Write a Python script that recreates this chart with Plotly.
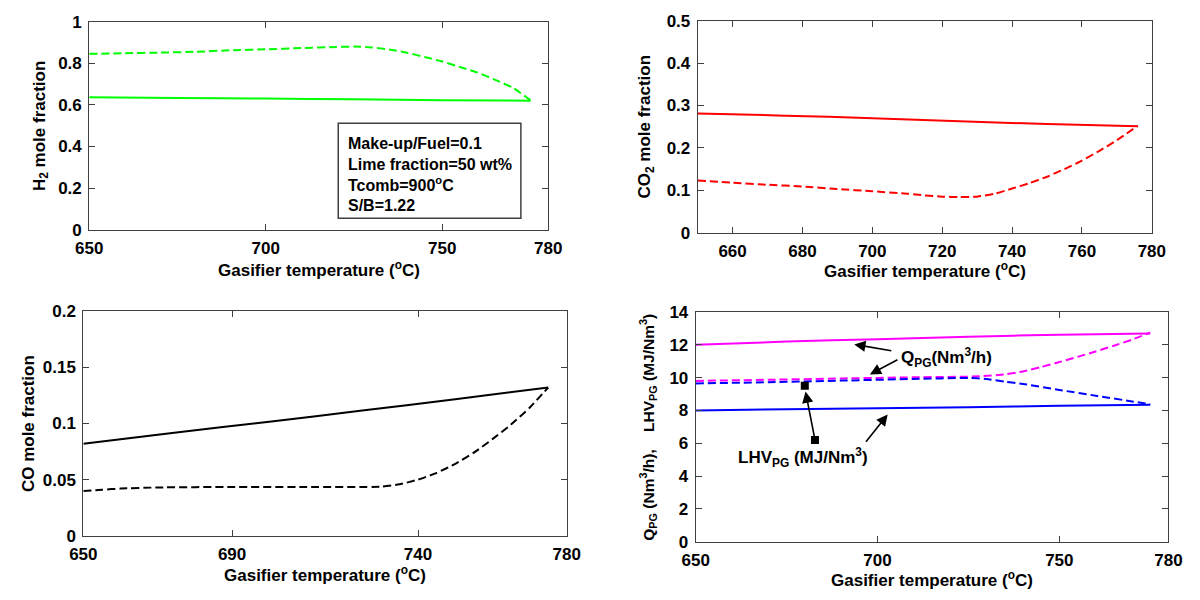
import plotly.graph_objects as go

# ---------------- data (gasifier temperature in °C) ----------------
# H2 mole fraction
h2_a_t = [650, 675, 700, 725, 750, 775]
h2_a = [0.637, 0.633, 0.630, 0.627, 0.622, 0.620]
h2_b_t = [650, 660, 670, 680, 690, 700, 710, 720, 725, 730, 735, 740, 745, 750, 755, 760, 765, 770, 775]
h2_b = [0.845, 0.848, 0.851, 0.855, 0.862, 0.867, 0.873, 0.878, 0.880, 0.876, 0.866, 0.850, 0.830,
        0.808, 0.782, 0.755, 0.720, 0.682, 0.622]

# CO2 mole fraction
co2_a_t = [650, 675, 700, 725, 750, 776]
co2_a = [0.281, 0.276, 0.270, 0.263, 0.256, 0.251]
co2_b_t = [650, 660, 670, 680, 690, 700, 710, 715, 720, 725, 730, 735, 740, 745, 750, 755, 760, 765, 770, 776]
co2_b = [0.123, 0.118, 0.113, 0.109, 0.103, 0.0976, 0.092, 0.088, 0.085, 0.084, 0.085, 0.092, 0.104,
         0.117, 0.132, 0.150, 0.170, 0.193, 0.218, 0.252]

# CO mole fraction
co_a_t = [650, 675, 700, 725, 750, 775]
co_a = [0.082, 0.092, 0.1015, 0.1115, 0.1215, 0.132]
co_b_t = [650, 655, 660, 670, 690, 710, 730, 735, 740, 745, 750, 755, 760, 765, 770, 775]
co_b = [0.0398, 0.041, 0.042, 0.043, 0.0435, 0.0435, 0.0437, 0.0458, 0.0500, 0.0560, 0.0640, 0.0740,
        0.0860, 0.0990, 0.1140, 0.132]

# Product gas flow Q_PG (Nm3/h)
q_a_t = [650, 675, 700, 725, 750, 775]
q_a = [12.0, 12.2, 12.35, 12.5, 12.62, 12.7]
q_b_t = [650, 670, 690, 710, 728, 735, 740, 745, 750, 755, 760, 765, 770, 775]
q_b = [9.8, 9.87, 9.95, 10.02, 10.08, 10.2, 10.38, 10.65, 10.95, 11.27, 11.6, 11.95, 12.32, 12.75]

# Product gas heating value LHV_PG (MJ/Nm3)
lhv_a_t = [650, 675, 700, 725, 750, 775]
lhv_a = [8.0, 8.07, 8.13, 8.2, 8.28, 8.35]
lhv_b_t = [650, 670, 690, 710, 725, 730, 735, 740, 750, 760, 770, 775]
lhv_b = [9.65, 9.72, 9.82, 9.92, 9.98, 9.92, 9.75, 9.62, 9.25, 8.9, 8.55, 8.38]

# axis ticks
x_ticks_1 = [650, 700, 750, 780]
x_ticks_2 = [660, 680, 700, 720, 740, 760, 780]
x_ticks_3 = [650, 690, 740, 780]
x_ticks_4 = [650, 700, 750, 780]
y_ticks_1 = [0, 0.2, 0.4, 0.6, 0.8, 1]
y_text_1 = ["0", "0.2", "0.4", "0.6", "0.8", "1"]
y_ticks_2 = [0, 0.1, 0.2, 0.3, 0.4, 0.5]
y_text_2 = ["0", "0.1", "0.2", "0.3", "0.4", "0.5"]
y_ticks_3 = [0, 0.05, 0.1, 0.15, 0.2]
y_text_3 = ["0", "0.05", "0.1", "0.15", "0.2"]
y_ticks_4 = [0, 2, 4, 6, 8, 10, 12, 14]

W, H = 1200, 600
FONT = "Liberation Sans, Arial, Helvetica, sans-serif"
AX = "#404040"
DASH = "8px,4px"
TICK_SIZE = 17
TITLE_SIZE = 17


def px(x):
    return x / W


def py(y):
    return 1 - y / H


fig = go.Figure()


def line(x, y, color, dashed, ax):
    fig.add_trace(go.Scatter(
        x=x, y=y, mode="lines", xaxis="x" + ax, yaxis="y" + ax,
        line=dict(color=color, width=2, dash=DASH if dashed else "solid",
                  shape="spline", smoothing=0.5),
        showlegend=False, hoverinfo="skip"))


line(h2_a_t, h2_a, "#00ff00", False, "")
line(h2_b_t, h2_b, "#00ff00", True, "")
line(co2_a_t, co2_a, "#ff0000", False, "2")
line(co2_b_t, co2_b, "#ff0000", True, "2")
line(co_a_t, co_a, "#000000", False, "3")
line(co_b_t, co_b, "#000000", True, "3")
line(q_a_t, q_a, "#ff00ff", False, "4")
line(q_b_t, q_b, "#ff00ff", True, "4")
line(lhv_a_t, lhv_a, "#0000ff", False, "4")
line(lhv_b_t, lhv_b, "#0000ff", True, "4")


def xax(domain, ticks, anchor):
    return dict(domain=domain, range=[650, 780], tickvals=ticks, anchor=anchor,
                showline=True, linecolor=AX, linewidth=1, mirror="ticks",
                ticks="inside", ticklen=6, tickcolor=AX, showgrid=False, zeroline=False,
                ticklabelstandoff=3,
                tickfont=dict(size=TICK_SIZE, color="black"))


def yax(domain, rng, ticks, text, anchor):
    d = dict(domain=domain, range=rng, tickvals=ticks, anchor=anchor,
             showline=True, linecolor=AX, linewidth=1, mirror="ticks",
             ticks="inside", ticklen=6, tickcolor=AX, showgrid=False, zeroline=False,
             ticklabelstandoff=3,
             tickfont=dict(size=TICK_SIZE, color="black"))
    if text is not None:
        d["ticktext"] = text
    return d


# panel frames in pixels: (left, right, top, bottom)
P1 = (77, 547, 13, 228)
P2 = (700, 1165, 12, 231)
P3 = (71, 566, 312, 544)
P4 = (698, 1182, 313, 550)


def dom(p):
    return [px(p[0]), px(p[1])], [py(p[3]), py(p[2])]


d1x, d1y = dom(P1)
d2x, d2y = dom(P2)
d3x, d3y = dom(P3)
d4x, d4y = dom(P4)

fig.update_layout(
    width=W, height=H, margin=dict(l=0, r=0, t=0, b=0),
    paper_bgcolor="white", plot_bgcolor="white",
    font=dict(family=FONT, size=16, color="black", weight="bold"),
    xaxis=xax(d1x, x_ticks_1, "y"),
    yaxis=yax(d1y, [0, 1], y_ticks_1, y_text_1, "x"),
    xaxis2=xax(d2x, x_ticks_2, "y2"),
    yaxis2=yax(d2y, [0, 0.5], y_ticks_2, y_text_2, "x2"),
    xaxis3=xax(d3x, x_ticks_3, "y3"),
    yaxis3=yax(d3y, [0, 0.2], y_ticks_3, y_text_3, "x3"),
    xaxis4=xax(d4x, x_ticks_4, "y4"),
    yaxis4=yax(d4y, [0, 14], y_ticks_4, None, "x4"),
)

XT = "Gasifier temperature (<sup>o</sup>C)"
ann = []


def label(text, x, y, angle=0, size=TITLE_SIZE):
    ann.append(dict(text=text, x=px(x), y=py(y), xref="paper", yref="paper",
                    showarrow=False, textangle=angle, xanchor="center", yanchor="middle",
                    font=dict(size=size, color="black")))


label(XT, (P1[0] + P1[1]) / 2, 268)
label(XT, (P2[0] + P2[1]) / 2, 270)
label(XT, (P3[0] + P3[1]) / 2, 583)
label(XT, (P4[0] + P4[1]) / 2, 589)
label("H<sub>2</sub> mole fraction", 27, (P1[2] + P1[3]) / 2, -90)
label("CO<sub>2</sub> mole fraction", 647, (P2[2] + P2[3]) / 2, -90)
label("CO mole fraction", 15, (P3[2] + P3[3]) / 2, -90)
label("Q<sub>PG</sub> (Nm<sup>3</sup>/h),\u00a0\u00a0\u00a0 LHV<sub>PG</sub> (MJ/Nm<sup>3</sup>)",
      649, (P4[2] + P4[3]) / 2, -90, 15.5)

# operating-condition box in the H2 panel
fig.add_shape(type="rect", xref="paper", yref="paper",
              x0=px(332), x1=px(519), y0=py(216), y1=py(118),
              line=dict(color=AX, width=1.5), fillcolor="white")
ann.append(dict(text="Make-up/Fuel=0.1<br>Lime fraction=50 wt%<br>Tcomb=900<sup>o</sup>C<br>S/B=1.22",
                x=px(340), y=py(171), xref="paper", yref="paper", showarrow=False,
                xanchor="left", yanchor="middle", align="left",
                font=dict(size=16, color="black")))

# labels and pointers in the Q/LHV panel
ann.append(dict(text="Q<sub>PG</sub>(Nm<sup>3</sup>/h)", x=719, y=11.25, xref="x4", yref="y4",
                showarrow=False, font=dict(size=17, color="black")))
ann.append(dict(text="LHV<sub>PG</sub> (MJ/Nm<sup>3</sup>)", x=679.5, y=5.1, xref="x4", yref="y4",
                showarrow=False, font=dict(size=17, color="black")))

arrows = [
    ((704.2, 11.63), (693.6, 12.03)),
    ((705.9, 11.14), (697.9, 10.2)),
    ((682.8, 6.2), (680.2, 9.15)),
    ((696.5, 6.0), (702.8, 7.75)),
]
for (tx, ty), (hx, hy) in arrows:
    ann.append(dict(x=hx, y=hy, ax=tx, ay=ty, xref="x4", yref="y4", axref="x4", ayref="y4",
                    text="", showarrow=True, arrowhead=2, arrowsize=1.4, arrowwidth=1.6,
                    arrowcolor="black"))

fig.add_trace(go.Scatter(x=[682.8, 680.0], y=[6.2, 9.5], mode="markers", xaxis="x4", yaxis="y4",
                         marker=dict(symbol="square", size=8, color="black"),
                         showlegend=False, hoverinfo="skip"))

fig.update_layout(annotations=ann)
fig.write_html("out.html")
